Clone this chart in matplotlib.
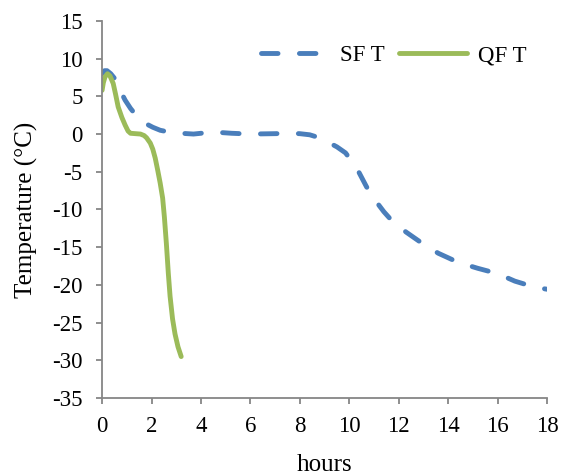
import numpy as np
import matplotlib.pyplot as plt

# --- data ---
sf_hours = [0.0, 0.1, 0.2, 0.35, 0.5, 0.7, 0.93, 1.15, 1.37, 1.7, 2.05, 2.35, 2.65,
            3.2, 3.7, 4.0, 4.4, 4.8, 5.25, 6.0, 7.0, 7.6, 8.0, 8.4, 8.8, 9.1, 9.5,
            9.85, 10.3, 10.7, 11.1, 11.4, 11.7, 12.3, 13.0, 13.6, 14.4, 15.2, 16.0,
            16.7, 17.5, 18.05]
sf_temp = [8.0, 8.4, 8.4, 8.0, 7.4, 6.0, 4.5, 3.4, 2.5, 1.5, 0.9, 0.5, 0.3,
           0.1, 0.0, 0.1, 0.3, 0.2, 0.1, 0.0, 0.05, 0.1, 0.05, -0.1, -0.5, -1.0, -1.7,
           -2.5, -4.5, -7.0, -9.0, -10.3, -11.4, -13.0, -14.6, -15.8, -17.0, -17.8, -18.5,
           -19.5, -20.3, -20.6]

qf_hours = [0.0, 0.05, 0.12, 0.22, 0.32, 0.45, 0.55, 0.65, 0.8, 0.93, 1.05, 1.15,
            1.35, 1.55, 1.7, 1.8, 1.95, 2.05, 2.15, 2.25, 2.35, 2.45, 2.52, 2.6,
            2.68, 2.75, 2.85, 2.95, 3.07, 3.2]
qf_temp = [5.8, 6.8, 7.6, 8.0, 7.7, 6.7, 5.2, 3.6, 2.2, 1.2, 0.4, 0.1,
           0.05, 0.0, -0.2, -0.5, -1.2, -2.0, -3.2, -4.8, -6.5, -8.5, -11.0, -14.5,
           -18.5, -21.5, -24.5, -26.5, -28.2, -29.5]

x_ticks = np.arange(0, 19, 2)
y_ticks = np.arange(-35, 16, 5)

plt.rcParams['font.family'] = ['Liberation Serif', 'DejaVu Serif']
plt.rcParams['axes.unicode_minus'] = False

fig = plt.figure(figsize=(5.61, 4.75), dpi=100)
ax = fig.add_axes([0.182, 0.162, 0.793, 0.794])

blue = '#4a7ebb'
green = '#9bbb59'

ax.plot(sf_hours, sf_temp, color=blue, lw=3.5, dashes=(3.4, 4.4),
        dash_capstyle='round', solid_capstyle='round', label='SF T')
ax.plot(qf_hours, qf_temp, color=green, lw=3.5, solid_capstyle='round',
        label='QF T')

ax.set_xlim(0, 18)
ax.set_ylim(-35, 15)
ax.set_xticks(x_ticks)
ax.set_yticks(y_ticks)

for side in ['top', 'right']:
    ax.spines[side].set_visible(False)
for side in ['left', 'bottom']:
    ax.spines[side].set_color('#868686')
    ax.spines[side].set_linewidth(1.3)
ax.tick_params(direction='out', length=4, width=1.3, color='#868686',
               labelsize=16.5)
ax.tick_params(axis='y', pad=10)
ax.tick_params(axis='x', pad=9)

ax.set_xlabel('hours', fontsize=18, labelpad=12)
ax.set_ylabel('Temperature (°C)', fontsize=18, labelpad=10)

ax.legend(loc='upper right', bbox_to_anchor=(1.0, 0.99), ncol=2, frameon=False,
          fontsize=16.5, handlelength=3.0, handletextpad=0.45, columnspacing=0.6)

fig.savefig('out.png', dpi=100)
